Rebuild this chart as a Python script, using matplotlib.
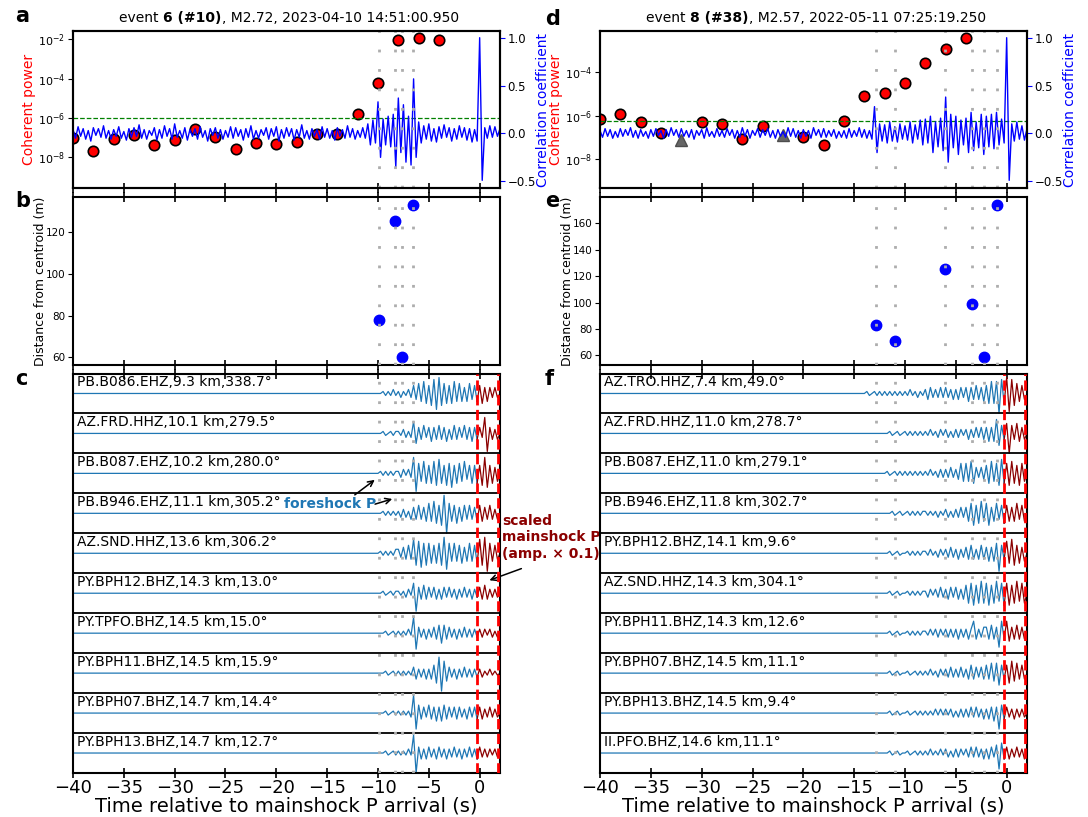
import numpy as np
import matplotlib
matplotlib.use('Agg')
import matplotlib.pyplot as plt
import matplotlib.transforms as mtransforms
from matplotlib import ticker


# ---------------- data ----------------
# coherent power, one value every 2 s (log10)
cp_times = [-40, -38, -36, -34, -32, -30, -28, -26, -24, -22,
            -20, -18, -16, -14, -12, -10, -8, -6, -4]
cp_a_log = [-7.0, -7.67, -7.07, -6.87, -7.36, -7.11, -6.58, -6.97, -7.6, -7.29,
            -7.33, -7.23, -6.84, -6.8, -5.82, -4.24, -2.04, -1.93, -2.04]
cp_d_log = [-6.14, -5.94, -6.28, -6.81, -7.1, -6.31, -6.37, -7.07, -6.47, -6.87,
            -6.98, -7.34, -6.24, -5.11, -4.97, -4.48, -3.58, -2.95, -2.4]
cp_d_neg = [0, 0, 0, 0, 1, 0, 0, 0, 0, 1, 0, 0, 0, 0, 0, 0, 0, 0, 0]
cp_a_thresh = 1e-6
cp_d_thresh = 10 ** -6.26

# correlation coefficient (x100), every 0.25 s from -40 s, one line = 2 s
corr_a = """
4 -5 7 -3 5 -6 3 -8
6 -2 5 -4 8 -5 3 -6
4 -3 7 -5 2 -7 5 -4
6 -3 9 -5 4 -6 3 -2
6 -7 4 -5 8 -3 5 -6
10 -4 3 -5 6 -7 4 -3
5 -6 7 -4 3 -8 5 -2
6 -5 4 -6 3 -4 7 -5
6 -3 4 -7 5 -4 8 -6
3 -5 4 -2 6 -6 5 -3
7 -8 4 -5 6 -3 5 -7
4 -4 9 -5 3 -6 5 -3
4 -6 7 -4 5 -5 3 -7
6 -3 4 -5 8 -4 5 -6
3 -4 6 -5 10 -12 14 -10
33 -25 15 -12 18 -14 20 -35
37 -20 30 -30 18 -33 57 -25
12 -10 8 -6 10 -8 5 -9
7 -5 9 -4 6 -8 5 -6
8 -4 6 -7 5 -9 4 -8
100 -49 6 -5 8 -4 7 -3
5
"""
corr_d = """
3 -4 5 -3 4 -5 2 -4
5 -3 4 -2 6 -4 3 -5
4 -3 2 -5 4 -3 5 -2
3 -5 4 -3 6 -2 4 -4
5 -3 3 -4 4 -6 3 -2
4 -5 6 -3 2 -4 5 -3
3 -4 5 -2 4 -5 3 -4
6 -3 4 -5 3 -2 5 -4
4 -2 5 -4 3 -5 4 -3
2 -4 6 -3 5 -4 3 -5
4 -3 3 -5 6 -2 4 -4
5 -4 3 -3 4 -5 2 -4
3 -5 5 -4 3 -3 6 -4
4 -5 3 -6 28 -20 10 -8
9 -10 12 -8 7 -9 10 -6
8 -7 12 -10 9 -6 14 -12
15 -10 18 -20 12 -14 16 -18
38 -30 20 -15 18 -22 14 -12
16 -20 22 -18 12 -15 20 -22
18 -14 20 -16 22 -12 15 -10
100 -49 10 -8 12 -6 8 -7
5
"""

# foreshock times and distances from centroid
fs_a_times = [-9.9, -8.3, -7.65, -6.6]
fs_a_dist = [78, 125, 60, 133]
fs_d_times = [-12.9, -11.0, -6.05, -3.4, -2.2, -0.95]
fs_d_dist = [82.8, 70.6, 125.1, 98.7, 58.5, 174.2]

# mainshock P window
ms_win = [-0.25, 1.8]

# station records: amplitude in tenths of half a row, every 0.25 s
c_labels = ['PB.B086.EHZ,9.3 km,338.7°', 'AZ.FRD.HHZ,10.1 km,279.5°',
            'PB.B087.EHZ,10.2 km,280.0°', 'PB.B946.EHZ,11.1 km,305.2°',
            'AZ.SND.HHZ,13.6 km,306.2°', 'PY.BPH12.BHZ,14.3 km,13.0°',
            'PY.TPFO.BHZ,14.5 km,15.0°', 'PY.BPH11.BHZ,14.5 km,15.9°',
            'PY.BPH07.BHZ,14.7 km,14.4°', 'PY.BPH13.BHZ,14.7 km,12.7°']
c_t0 = -12
c_traces = [
    "0 0 0 0 0 0 0 0  0 0 1 -1 1 -1 2 -1  1 -2 1 -1 2 -2 4 -3  5 -4 6 -5 4 -6 7 -8  "
    "8 -6 5 -5 4 -5 6 -4  5 -4 3 -4 5 -3 4 -4  4 -5 3 -4 3 -2 3 -2  0",
    "0 0 0 0 0 0 0 0  0 0 1 -1 0 1 -1 1  1 -1 2 -2 1 -2 6 -5  3 -3 4 -2 3 -4 3 -3  "
    "4 -3 3 -4 2 -3 4 -3  3 -2 4 -3 3 -4 3 -3  3 -2 8 -9 3 -3 2 -3  0",
    "0 0 0 0 0 0 0 0  0 1 -1 1 -1 1 -1 1  1 -2 2 -1 2 -2 8 -9  5 -4 6 -5 4 -5 6 -6  "
    "7 -5 4 -6 5 -7 4 -5  5 -4 6 -3 4 -5 4 -5  4 -6 8 -7 4 -5 3 -4  0",
    "0 0 0 0 0 0 0 0  0 0 1 -1 1 -1 1 -1  1 -2 2 -2 1 -3 3 -3  4 -3 3 -4 5 -4 6 -5  "
    "4 -6 9 -10 5 -4 4 -5  3 -4 4 -3 4 -3 3 -4  4 -4 3 -3 4 -3 2 -3  0",
    "0 0 0 0 0 0 0 0  0 1 -1 1 -1 1 -1 2  2 -2 3 -3 4 -3 7 -6  6 -7 5 -6 5 -5 4 -5  "
    "5 -6 8 -8 5 -4 5 -4  4 -5 3 -4 5 -4 4 -5  7 -6 8 -9 5 -4 4 -3  0",
    "0 0 0 0 0 0 0 0  0 0 1 -1 0 1 -1 1  1 -1 1 -2 2 -1 5 -9  3 -3 4 -3 3 -2 3 -3  "
    "2 -3 3 -2 3 -2 2 -3  2 -2 3 -2 2 -3 2 -2  3 -3 4 -3 2 -2 2 -2  0",
    "0 0 0 0 0 0 0 0  0 0 0 1 -1 0 1 -1  1 -1 1 -1 2 -1 8 -8  3 -2 2 -3 2 -2 3 -3  "
    "4 -5 4 -3 3 -2 2 -3  2 -2 3 -2 2 -2 2 -2  2 -2 2 -1 2 -2 1 -2  0",
    "0 0 0 0 0 0 0 0  0 0 0 1 -1 0 1 -1  1 -1 1 -1 1 -1 3 -3  2 -2 2 -3 2 -3 4 -5  "
    "8 -9 6 -4 3 -2 2 -3  2 -2 3 -2 2 -2 2 -2  2 -2 1 -1 2 -1 1 -1  0",
    "0 0 0 0 0 0 0 0  0 0 0 1 -1 0 1 -1  1 -1 1 -1 1 -2 9 -8  4 -3 3 -2 4 -3 3 -4  "
    "3 -4 4 -3 3 -2 3 -3  3 -2 2 -3 3 -2 3 -3  3 -3 2 -2 3 -2 2 -2  0",
    "0 0 0 0 0 0 0 0  0 0 0 1 -1 0 1 -1  1 -1 1 -1 2 -1 9 -10  3 -3 2 -3 3 -2 2 -3  "
    "3 -2 2 -3 2 -2 3 -2  2 -3 2 -2 3 -2 2 -3  3 -2 2 -2 2 -1 2 -2  0",
]

f_labels = ['AZ.TRO.HHZ,7.4 km,49.0°', 'AZ.FRD.HHZ,11.0 km,278.7°',
            'PB.B087.EHZ,11.0 km,279.1°', 'PB.B946.EHZ,11.8 km,302.7°',
            'PY.BPH12.BHZ,14.1 km,9.6°', 'AZ.SND.HHZ,14.3 km,304.1°',
            'PY.BPH11.BHZ,14.3 km,12.6°', 'PY.BPH07.BHZ,14.5 km,11.1°',
            'PY.BPH13.BHZ,14.5 km,9.4°', 'II.PFO.BHZ,14.6 km,11.1°']
f_t0 = -14
f_traces = [
    "0 1 -1 0 1 -1 1 -1  1 -1 1 -1 1 -1 1 -1  1 -1 2 -1 1 -2 1 -1  2 -3 3 -2 2 -2 3 -2  "
    "3 -2 2 -3 2 -3 3 -2  3 -4 3 -3 4 -3 3 -4  4 -5 6 -5 6 -10 7 -5  8 -9 7 -6 5 -4 4 -3  0",
    "0 0 0 0 0 0 0 0  0 0 1 -1 0 1 -1 0  1 -1 1 -1 1 -1 1 -1  1 -1 2 -1 1 -2 2 -1  "
    "2 -2 1 -2 2 -2 2 -1  2 -3 2 -2 3 -2 3 -3  3 -4 3 -4 7 -6 4 -3  5 -10 4 -3 5 -4 3 -3  0",
    "0 0 0 0 0 0 0 0  0 1 -1 0 1 -1 1 -1  1 -1 1 -1 1 -1 1 -1  1 -1 2 -1 1 -2 2 -2  "
    "2 -2 3 -2 2 -3 5 -4  5 -4 6 -5 3 -2 3 -3  4 -5 6 -4 5 -6 7 -5  5 -6 6 -5 4 -6 5 -4  0",
    "0 0 0 0 0 0 0 0  0 0 0 1 -1 0 1 -1  0 1 -1 1 -1 1 -1 1  1 -1 1 -1 1 -2 1 -1  "
    "2 -2 1 -2 2 -2 3 -2  3 -4 5 -6 4 -5 6 -4  5 -6 3 -4 5 -3 4 -5  4 -4 3 -4 5 -3 4 -4  0",
    "0 0 0 0 0 0 0 0  0 0 1 -1 0 1 -1 0  0 1 -1 1 -1 1 -1 1  1 -1 2 -1 1 -2 2 -1  "
    "2 -2 3 -2 2 -3 2 -2  3 -3 4 -3 2 -3 4 -3  3 -4 3 -4 5 -9 4 -3  6 -5 7 -6 4 -5 3 -4  0",
    "0 0 0 0 0 0 0 0  0 0 1 -1 0 1 -1 0  0 1 -1 1 -1 1 -1 1  1 -2 2 -1 2 -2 3 -2  "
    "2 -3 3 -2 3 -3 2 -3  4 -5 5 -6 4 -5 6 -5  5 -6 4 -5 6 -4 5 -6  5 -6 4 -5 6 -4 5 -5  0",
    "0 0 0 0 0 0 0 0  0 0 1 -1 0 1 -1 0  0 1 -1 1 -1 1 -1 1  1 -1 2 -1 2 -2 2 -1  "
    "2 -2 2 -2 2 -3 2 -2  2 -3 2 6 -3 2 -2 3  3 -3 4 -3 3 -7 6 -3  6 -4 3 -3 4 -3 3 -3  0",
    "0 0 0 0 0 0 0 0  0 0 1 -1 0 1 -1 0  0 1 -1 0 1 -1 1 -1  1 -1 2 -1 1 -2 2 -1  "
    "2 -2 3 -2 2 -2 3 -2  2 -3 4 -3 3 -2 3 -3  4 -3 5 -4 5 -6 4 -3  4 -5 6 -4 5 -3 4 -3  0",
    "0 0 0 0 0 0 0 0  0 0 1 -1 0 1 -1 0  0 1 -1 0 1 -1 1 -1  1 -1 1 -1 2 -1 2 -1  "
    "2 -1 2 -2 1 -2 2 -2  2 -2 3 -2 3 -2 2 -3  2 -3 3 -4 3 -8 4 -3  3 -2 2 -3 2 -2 2 -2  0",
    "0 0 0 0 0 0 0 0  0 0 1 -1 0 1 -1 0  0 1 -1 0 1 -1 1 -1  1 -1 2 -1 1 -1 2 -1  "
    "2 -2 1 -2 2 -2 2 -1  2 -2 3 -2 3 -2 2 -3  2 -3 3 -2 4 -8 5 -3  3 -3 2 -2 3 -2 2 -3  0",
]

titles = [('event ', '6 (#10)', ', M2.72, 2023-04-10 14:51:00.950'),
          ('event ', '8 (#38)', ', M2.57, 2022-05-11 07:25:19.250')]


# ---------------- plotting ----------------
plt.rcParams['font.family'] = 'DejaVu Sans'
fig = plt.figure(figsize=(10.88, 8.17), dpi=100)

blue_tr = '#1f77b4'
grey_ls = (0, (1, 6))
xlim = (-40, 2)


def style_x(ax, top=False, labels=False):
    ax.set_xlim(*xlim)
    ax.xaxis.set_major_locator(ticker.MultipleLocator(5))
    ax.tick_params(axis='x', direction='inout', length=7, width=1.2,
                   top=top, labelbottom=labels, labelsize=13, pad=0.5)
    for sp in ax.spines.values():
        sp.set_linewidth(1.5)


def power_panel(rect, cp_log, corr_str, fs_times, thresh, ylim_log, title, neg=None):
    ax = fig.add_axes(rect)
    t = np.array(cp_times, float)
    v = 10 ** np.array(cp_log)
    if neg is None:
        neg = np.zeros(len(t), bool)
    neg = np.array(neg, bool)
    ax.plot(t[~neg], v[~neg], 'o', color='red', mec='black', mew=1.2, ms=7.5)
    ax.plot(t[neg], v[neg], '^', color='0.4', mec='0.3', ms=8)
    ax.axhline(thresh, color='green', ls='--', lw=0.9)
    ax.set_yscale('log')
    ax.set_ylim(10 ** ylim_log[0], 10 ** ylim_log[1])
    ax.yaxis.set_major_locator(ticker.FixedLocator([1e-8, 1e-6, 1e-4, 1e-2]))
    ax.yaxis.set_minor_locator(ticker.NullLocator())
    ax.yaxis.set_major_formatter(ticker.LogFormatterSciNotation())
    ax.tick_params(axis='y', labelsize=8, pad=2)
    ax.set_ylabel('Coherent power', color='red', fontsize=10)
    ax.yaxis.set_label_coords(-0.086, 0.5)
    style_x(ax)

    axt = ax.twinx()
    c = np.array(corr_str.split(), float) / 100
    tc = -40 + 0.25 * np.arange(len(c))
    axt.plot(tc, c, color='blue', lw=1)
    for ft in fs_times:
        axt.axvline(ft, color='0.68', lw=2, ls=grey_ls)
    axt.set_ylim(-0.57, 1.07)
    axt.set_yticks([-0.5, 0, 0.5, 1.0])
    axt.tick_params(axis='y', color='blue', labelsize=8.5, pad=2)
    axt.set_ylabel('Correlation coefficient', color='blue', fontsize=10)
    axt.yaxis.set_label_coords(1.085, 0.5)
    axt.set_xlim(*xlim)
    for sp in axt.spines.values():
        sp.set_linewidth(1.5)

    # title with the event number in bold
    t1 = ax.text(0.5, 1.04, title[0] + title[1] + title[2], transform=ax.transAxes,
                 ha='center', va='bottom', fontsize=10, alpha=0)
    fig.canvas.draw()
    bb = t1.get_window_extent()
    x0 = bb.x0
    for part, w in zip(title, ['normal', 'bold', 'normal']):
        tt = fig.text(x0, bb.y0, part, fontsize=10, fontweight=w,
                      transform=None, ha='left', va='bottom')
        x0 = tt.get_window_extent(fig.canvas.get_renderer()).x1
    return ax


def dist_panel(rect, fs_times, fs_dist):
    ax = fig.add_axes(rect)
    ax.plot(fs_times, fs_dist, 'o', color='blue', ms=7.5, zorder=3)
    for ft in fs_times:
        ax.axvline(ft, color='0.68', lw=2, ls=grey_ls, zorder=4)
    ax.margins(y=0.05)
    ax.yaxis.set_major_locator(ticker.MultipleLocator(20))
    ax.tick_params(axis='y', labelsize=7.5, pad=2)
    ax.set_ylabel('Distance from centroid (m)', fontsize=9)
    ax.yaxis.set_label_coords(-0.061, 0.5)
    style_x(ax, top=True)
    return ax


def record_panel(rect, labels, traces, t0, fs_times):
    ax = fig.add_axes(rect)
    n = len(labels)
    trans = mtransforms.blended_transform_factory(ax.transAxes, ax.transData)
    for i, (lab, s) in enumerate(zip(labels, traces)):
        yc = n - i - 0.5
        v = np.array(s.split(), float) * 0.05
        t = t0 + 0.25 * np.arange(len(v))
        b = t <= ms_win[0]
        r = t >= ms_win[0]
        ax.plot(np.r_[-40, t[b]], yc + np.r_[0, v[b]], color=blue_tr, lw=0.9)
        ax.plot(t[r], yc + v[r], color='darkred', lw=0.9)
        ax.text(0.009, n - i - 0.04, lab, transform=trans, va='top', fontsize=10)
        if i > 0:
            ax.axhline(n - i, color='black', lw=1.3)
    for ft in fs_times:
        ax.axvline(ft, color='0.68', lw=2, ls=grey_ls, zorder=4)
    for w in ms_win:
        ax.axvline(w, color='red', ls='--', lw=2, zorder=5)
    ax.set_ylim(0, n)
    ax.set_yticks([])
    style_x(ax, top=True, labels=True)
    ax.set_xlabel('Time relative to mainshock P arrival (s)', fontsize=14, labelpad=0)
    return ax


W = 1088.0
H = 817.0
lx, rx, cw = 73 / W, 600 / W, 427 / W
ra = [188 / H, 157 / H]
rb = [365 / H, 168 / H]
rc = [773 / H, 399.5 / H]

ax_a = power_panel([lx, 1 - ra[0], cw, ra[1]], cp_a_log, corr_a, fs_a_times,
                   cp_a_thresh, (-9.57, -1.58), titles[0])
ax_d = power_panel([rx, 1 - ra[0], cw, ra[1]], cp_d_log, corr_d, fs_d_times,
                   cp_d_thresh, (-9.33, -2.1), titles[1], neg=cp_d_neg)
ax_b = dist_panel([lx, 1 - rb[0], cw, rb[1]], fs_a_times, fs_a_dist)
ax_e = dist_panel([rx, 1 - rb[0], cw, rb[1]], fs_d_times, fs_d_dist)
ax_c = record_panel([lx, 1 - rc[0], cw, rc[1]], c_labels, c_traces, c_t0, fs_a_times)
ax_f = record_panel([rx, 1 - rc[0], cw, rc[1]], f_labels, f_traces, f_t0, fs_d_times)

# annotations in panel c
ax_c.text(-10.2, 6.74, 'foreshock P', color=blue_tr, fontweight='bold',
          fontsize=10, ha='right', va='center', zorder=6)
ax_c.annotate('', xy=(-10.1, 7.38), xytext=(-12.5, 6.92),
              arrowprops=dict(arrowstyle='->', color='black', lw=1.1))
ax_c.annotate('', xy=(-8.34, 6.88), xytext=(-10.55, 6.71),
              arrowprops=dict(arrowstyle='->', color='black', lw=1.1))
ax_c.text(2.2, 6.49, 'scaled\nmainshock P\n(amp. × 0.1)', color='darkred',
          fontweight='bold', fontsize=10, ha='left', va='top', linespacing=1.25)
ax_c.annotate('', xy=(0.7, 4.8), xytext=(4.36, 5.14), annotation_clip=False,
              arrowprops=dict(arrowstyle='->', color='black', lw=1.1))

# panel letters
for lab, x, y in [('a', 15, 22), ('b', 15, 207), ('c', 15, 385),
                  ('d', 545, 25), ('e', 545, 207), ('f', 545, 385)]:
    fig.text(x / W, 1 - y / H, lab, fontsize=15, fontweight='bold', va='baseline')

plt.savefig('out.png', dpi=100)
